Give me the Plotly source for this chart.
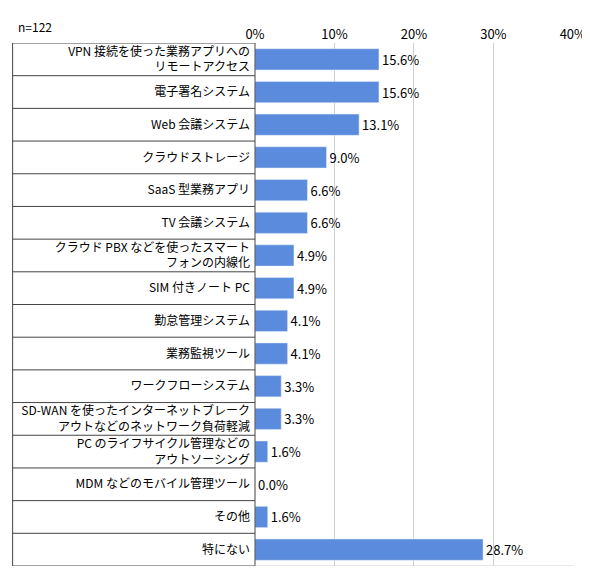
import plotly.graph_objects as go

labels = [
    "VPN 接続を使った業務アプリへの<br>リモートアクセス",
    "電子署名システム",
    "Web 会議システム",
    "クラウドストレージ",
    "SaaS 型業務アプリ",
    "TV 会議システム",
    "クラウド PBX などを使ったスマート<br>フォンの内線化",
    "SIM 付きノート PC",
    "勤怠管理システム",
    "業務監視ツール",
    "ワークフローシステム",
    "SD-WAN を使ったインターネットブレーク<br>アウトなどのネットワーク負荷軽減",
    "PC のライフサイクル管理などの<br>アウトソーシング",
    "MDM などのモバイル管理ツール",
    "その他",
    "特にない",
]
values = [15.6, 15.6, 13.1, 9.0, 6.6, 6.6, 4.9, 4.9, 4.1, 4.1, 3.3, 3.3, 1.6, 0.0, 1.6, 28.7]
ticks = [0, 10, 20, 30, 40]

font = "Noto Sans CJK JP"
n = len(labels)

fig = go.Figure(go.Bar(
    x=values, y=list(range(n)), orientation="h",
    marker_color="#5B8BDC", width=0.65,
    text=[f"{v:.1f}%" for v in values], textposition="outside",
    textfont=dict(size=13, color="black"), cliponaxis=False,
))

# table borders on the label column
left = (5 - 255) / 328
shapes = []
for i in range(n + 1):
    shapes.append(dict(type="line", xref="paper", yref="y", x0=left, x1=0,
                       y0=i - 0.5, y1=i - 0.5, line=dict(color="#444", width=1)))
shapes.append(dict(type="line", xref="paper", yref="y", x0=left, x1=left,
                   y0=-0.5, y1=n - 0.5, line=dict(color="#444", width=1)))
shapes.append(dict(type="line", xref="paper", yref="y", x0=0, x1=0,
                   y0=-0.5, y1=n - 0.5, line=dict(color="#444", width=1)))
shapes.append(dict(type="line", xref="paper", yref="y", x0=0, x1=1,
                   y0=n - 0.5, y1=n - 0.5, line=dict(color="#d0d0d0", width=1)))

fig.update_layout(
    width=590, height=580, margin=dict(l=247, r=15, t=35, b=22),
    paper_bgcolor="white", plot_bgcolor="white",
    font=dict(family=font, size=12, color="black"),
    showlegend=False, shapes=shapes,
    xaxis=dict(range=[0, 40.02], side="top", tickvals=ticks,
               ticktext=[f"{t}%" for t in ticks], tickfont=dict(size=13),
               showgrid=True, gridcolor="#d0d0d0", zeroline=False, ticks=""),
    yaxis=dict(range=[n - 0.5, -0.5], tickvals=list(range(n)), ticktext=labels,
               tickfont=dict(size=12), ticks="", showgrid=False, zeroline=False,
               ticklabelstandoff=4),
    annotations=[dict(text="n=122", xref="paper", yref="paper", x=left + 0.01, y=1,
                      yshift=17, xanchor="left", yanchor="middle", showarrow=False,
                      font=dict(size=12))],
)

fig.write_html("out.html")
